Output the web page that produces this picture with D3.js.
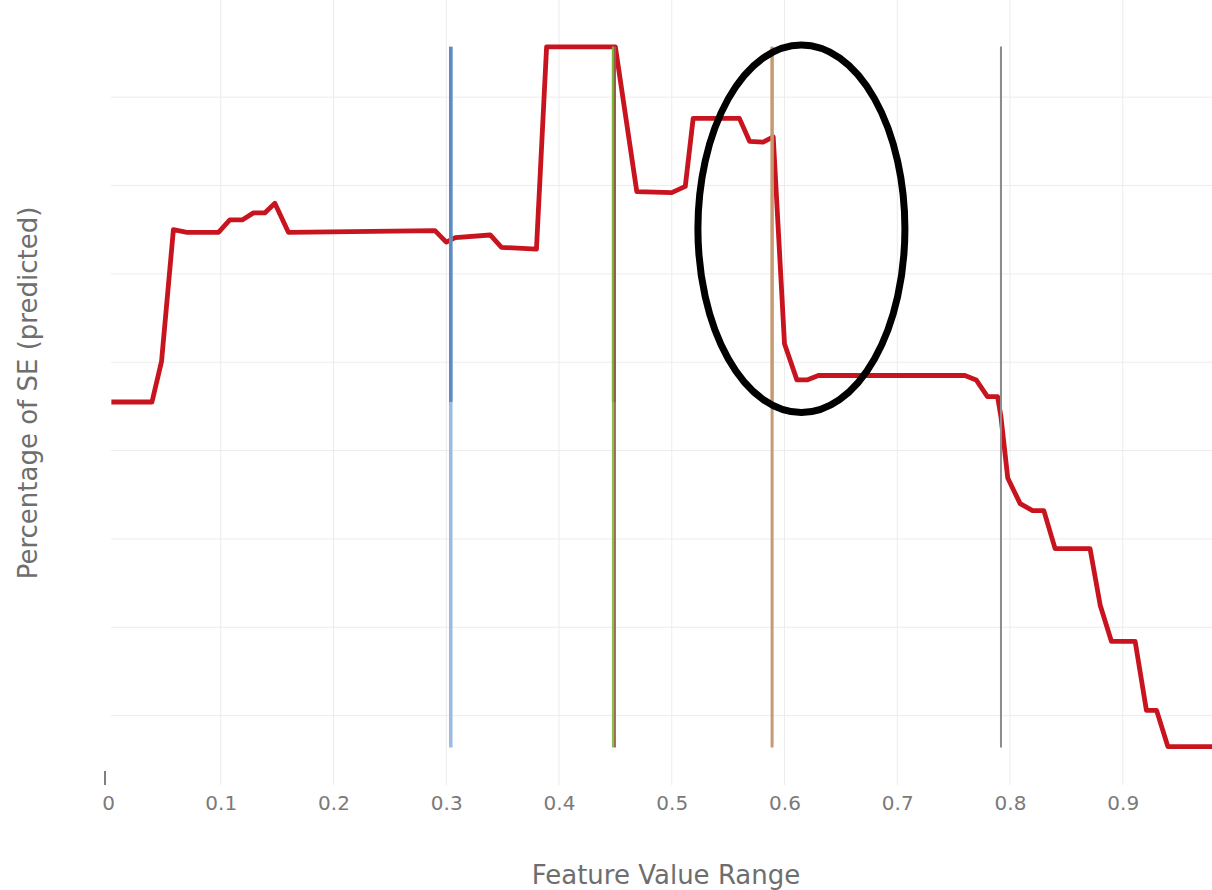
<!DOCTYPE html>
<html>
<head>
<meta charset="utf-8">
<script src="https://cdn.jsdelivr.net/npm/d3@7"></script>
<style>
  html, body { margin: 0; padding: 0; background: #fff; }
  svg { display: block; }
</style>
</head>
<body>
<svg id="chart" width="1212" height="890"></svg>
<script>
// ---- data ----
const featureValues = [0.003, 0.039, 0.0475, 0.058, 0.07, 0.098, 0.108, 0.119, 0.129, 0.139, 0.148, 0.16,
  0.29, 0.30, 0.308, 0.339, 0.349, 0.38, 0.389, 0.45, 0.469, 0.50, 0.512, 0.519, 0.56, 0.569, 0.581, 0.59,
  0.60, 0.611, 0.62, 0.63, 0.76, 0.77, 0.78, 0.789, 0.792, 0.798, 0.809, 0.82, 0.83, 0.84, 0.871, 0.88,
  0.89, 0.911, 0.921, 0.93, 0.94, 0.98];
const predictedSE = [45.5, 45.5, 50.1, 65.0, 64.7, 64.7, 66.1, 66.1, 66.9, 66.9, 68.0, 64.7,
  64.9, 63.6, 64.1, 64.4, 63.0, 62.8, 85.7, 85.7, 69.3, 69.2, 69.9, 77.6, 77.6, 75.0, 74.9, 75.5,
  52.1, 48.0, 48.0, 48.5, 48.5, 48.0, 46.1, 46.1, 43.8, 36.9, 34.0, 33.2, 33.2, 28.9, 28.9, 22.5,
  18.4, 18.4, 10.6, 10.6, 6.5, 6.5];
const xTicks = [0, 0.1, 0.2, 0.3, 0.4, 0.5, 0.6, 0.7, 0.8, 0.9];
const xTickLabels = ["0", "0.1", "0.2", "0.3", "0.4", "0.5", "0.6", "0.7", "0.8", "0.9"];
const yGrid = [10, 20, 30, 40, 50, 60, 70, 80];
// vertical marker lines
const markerX = [0.304, 0.4478, 0.4496, 0.589, 0.792];
const markerColors = ["#9bbbe0", "#86bd4c", "#9a6a52", "#c49a72", "#8c8c8c"];
const markerUpperColors = ["#5b8cc4", "#7ab838", "#8f5f48", "#c49a72", "#8c8c8c"];
const markerWidths = [3.5, 2, 2, 3, 2];
// annotation ellipse (center, radii in data units)
const ellipseCenter = [0.615, 65.1];
const ellipseRadii = [0.0918, 20.8];
const xTitle = "Feature Value Range";
const yTitle = "Percentage of SE (predicted)";

// ---- scales ----
const svg = d3.select("#chart");
const x = d3.scaleLinear().domain([0, 0.98]).range([108, 108 + 1127.5 * 0.98]);
const y = d3.scaleLinear().domain([0, 90]).range([804, 8.8]);
const plotBottom = 785;

// gridlines
svg.append("g").selectAll("line").data(xTicks.filter(d => d > 0)).join("line")
  .attr("x1", d => x(d)).attr("x2", d => x(d))
  .attr("y1", 0).attr("y2", plotBottom)
  .attr("stroke", "#ececec").attr("stroke-width", 1);
svg.append("g").selectAll("line").data(yGrid).join("line")
  .attr("x1", 111).attr("x2", 1212)
  .attr("y1", d => y(d)).attr("y2", d => y(d))
  .attr("stroke", "#ececec").attr("stroke-width", 1);

// x axis
const xAxis = d3.axisBottom(x).tickValues(xTicks)
  .tickFormat((d, i) => xTickLabels[i]).tickSize(0).tickPadding(0);
const gx = svg.append("g").attr("transform", "translate(0,796)").call(xAxis);
gx.select(".domain").remove();
gx.selectAll("text")
  .attr("font-family", "'DejaVu Sans', Verdana, sans-serif")
  .attr("font-size", 20).attr("fill", "#7a7a7a").attr("dy", "0.71em");
// small zero tick
svg.append("line").attr("x1", x(0) - 3).attr("x2", x(0) - 3)
  .attr("y1", 771).attr("y2", 785).attr("stroke", "#555").attr("stroke-width", 1.5);

// red line
const line = d3.line().x((d, i) => x(featureValues[i])).y(d => y(d));
svg.append("path").datum(predictedSE)
  .attr("d", line).attr("fill", "none")
  .attr("stroke", "#c8141e").attr("stroke-width", 4.8)
  .attr("stroke-linejoin", "round").attr("stroke-linecap", "butt");

// marker lines
const yMax = d3.max(predictedSE), yMin = d3.min(predictedSE), ySplit = predictedSE[0];
const mg = svg.append("g");
markerX.forEach((v, i) => {
  mg.append("line").attr("x1", x(v)).attr("x2", x(v))
    .attr("y1", y(yMax)).attr("y2", y(yMin) + 1)
    .attr("stroke", markerColors[i]).attr("stroke-width", markerWidths[i]);
  mg.append("line").attr("x1", x(v)).attr("x2", x(v))
    .attr("y1", y(yMax)).attr("y2", y(ySplit))
    .attr("stroke", markerUpperColors[i]).attr("stroke-width", markerWidths[i]);
});

// annotation ellipse
svg.append("ellipse")
  .attr("cx", x(ellipseCenter[0])).attr("cy", y(ellipseCenter[1]))
  .attr("rx", x(ellipseCenter[0] + ellipseRadii[0]) - x(ellipseCenter[0]))
  .attr("ry", y(ellipseCenter[1] - ellipseRadii[1]) - y(ellipseCenter[1]))
  .attr("fill", "none").attr("stroke", "#000").attr("stroke-width", 7);

// axis titles
svg.append("text").attr("x", 666).attr("y", 884)
  .attr("text-anchor", "middle")
  .attr("font-family", "'DejaVu Sans', Verdana, sans-serif")
  .attr("font-size", 26).attr("fill", "#6e6e6e").text(xTitle);
svg.append("text")
  .attr("transform", "translate(37,393) rotate(-90)")
  .attr("text-anchor", "middle")
  .attr("font-family", "'DejaVu Sans', Verdana, sans-serif")
  .attr("font-size", 26).attr("fill", "#6e6e6e").text(yTitle);
</script>
</body>
</html>
